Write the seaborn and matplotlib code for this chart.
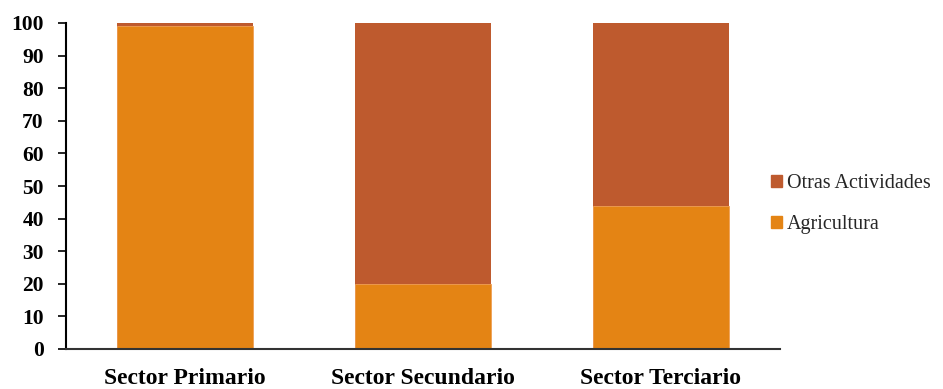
import matplotlib
matplotlib.use("Agg")
import matplotlib.pyplot as plt
from matplotlib.patches import Patch
import seaborn as sns
import pandas as pd

sectors = ["Sector Primario", "Sector Secundario", "Sector Terciario"]
agricultura = [99, 20, 44]
otras = [1, 80, 56]
yticks = [0, 10, 20, 30, 40, 50, 60, 70, 80, 90, 100]

color_agri = "#E48414"
color_otras = "#BE5A2E"

sns.set_theme(style="white")
plt.rcParams["font.family"] = ["Liberation Serif", "DejaVu Serif"]

df = pd.DataFrame({
    "sector": sectors,
    "agricultura": agricultura,
    "total": [a + o for a, o in zip(agricultura, otras)],
})

fig = plt.figure(figsize=(9.43, 3.89), dpi=100)
ax = fig.add_axes([66 / 943, 1 - 349 / 389, (780 - 66) / 943, (349 - 23) / 389])

# stacked bars: full height in the upper colour, then the lower segment over it
sns.barplot(data=df, x="sector", y="total", color=color_otras, width=0.57,
            saturation=1, linewidth=0, ax=ax)
sns.barplot(data=df, x="sector", y="agricultura", color=color_agri, width=0.57,
            saturation=1, edgecolor="#EFA055", linewidth=0.6, ax=ax)

ax.set_ylim(0, 100)
ax.set_xlim(-0.5, 2.5)
ax.set_yticks(yticks)
ax.set_yticklabels([str(t) for t in yticks], fontsize=15.5, fontweight="bold")
ax.set_xticks(range(len(sectors)))
ax.set_xticklabels(sectors, fontsize=17, fontweight="bold")
ax.set_xlabel("")
ax.set_ylabel("")

for s in ("top", "right"):
    ax.spines[s].set_visible(False)
ax.spines["left"].set_color("black")
ax.spines["left"].set_linewidth(1.5)
ax.spines["bottom"].set_color("#333333")
ax.spines["bottom"].set_linewidth(1.5)
ax.tick_params(axis="y", left=True, length=6, width=1.2, color="black", pad=10,
               colors="black")
ax.tick_params(axis="x", bottom=False, pad=8, colors="black")

handles = [Patch(color=color_otras, label="Otras Actividades"),
           Patch(color=color_agri, label="Agricultura")]
fig.legend(handles=handles, loc="center left", bbox_to_anchor=(753 / 943, 1 - 204 / 389),
           frameon=False, fontsize=14.5, handlelength=0.55, handleheight=0.55,
           handletextpad=0.25, labelspacing=1.1)

fig.savefig("out.png", dpi=100)
